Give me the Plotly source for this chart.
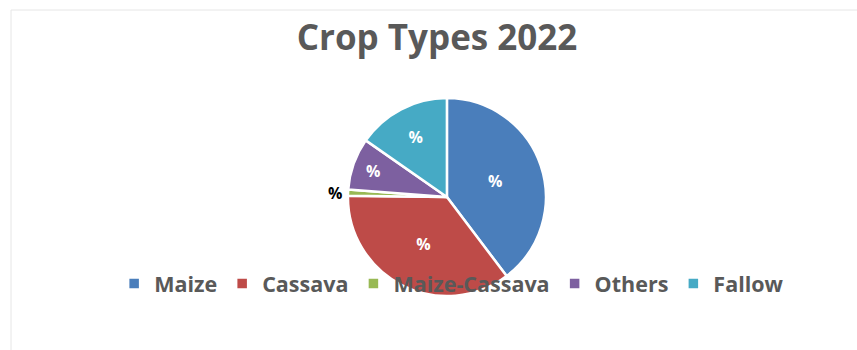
import plotly.graph_objects as go

labels = ["Maize", "Cassava", "Maize-Cassava", "Others", "Fallow"]
values = [39.7, 35.5, 1.0, 8.5, 15.3]
colors = ["#4a7ebb", "#be4b48", "#98b954", "#7d60a0", "#46aac5"]
text_pos = ["inside", "inside", "outside", "inside", "inside"]
text_colors = ["white", "white", "black", "white", "white"]

FONT = "Open Sans"

fig = go.Figure(go.Pie(
    labels=labels,
    values=values,
    sort=False,
    direction="clockwise",
    rotation=0,
    marker=dict(colors=colors, line=dict(color="white", width=2.5)),
    texttemplate="%",
    textposition=text_pos,
    insidetextfont=dict(color="white", size=16, family=FONT, weight="bold"),
    outsidetextfont=dict(color="black", size=16, family=FONT, weight="bold"),
    textfont=dict(color=text_colors, size=16, family=FONT, weight="bold"),
    insidetextorientation="horizontal",
    automargin=False,
    domain=dict(x=[0.406, 0.637], y=[0.154, 0.72]),
    hoverinfo="label+percent",
))

fig.update_layout(
    width=857, height=350,
    margin=dict(l=0, r=0, t=0, b=0),
    paper_bgcolor="white",
    plot_bgcolor="white",
    title=dict(text="<b>Crop Types 2022</b>", x=0.51, xanchor="center",
               y=0.893, yanchor="middle",
               font=dict(family=FONT, size=35, color="#595959")),
    legend=dict(orientation="h", x=0.527, xanchor="center", y=0.19, yanchor="middle",
                bgcolor="rgba(0,0,0,0)",
                font=dict(family=FONT, size=21.5, color="#595959", weight="bold")),
    shapes=[dict(type="rect", xref="paper", yref="paper",
                 x0=11/857, x1=1.01, y0=-0.01, y1=1 - 10/350,
                 line=dict(color="#e6e6e6", width=1), fillcolor="rgba(0,0,0,0)",
                 layer="below")],
)

fig.write_html("out.html")
